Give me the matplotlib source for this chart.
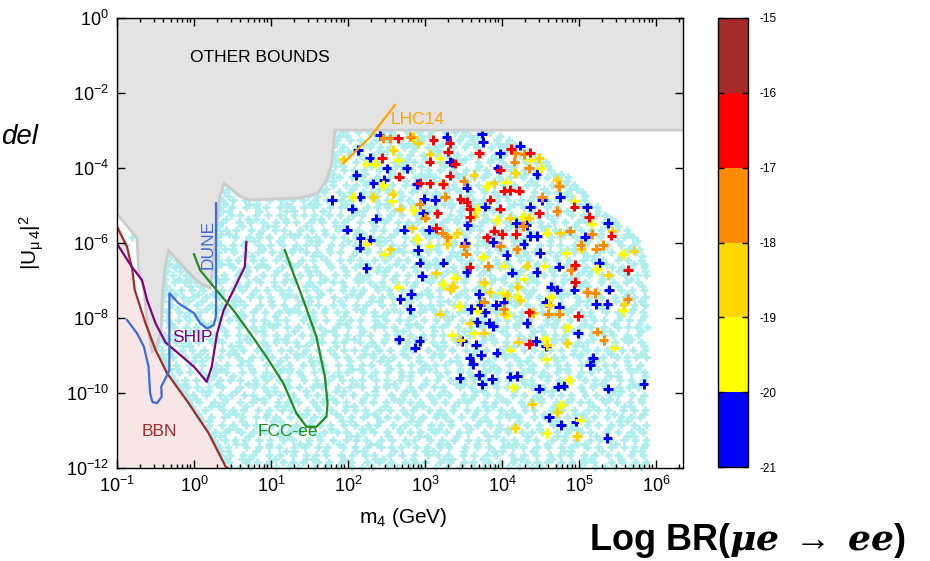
import matplotlib
matplotlib.use("Agg")
import matplotlib.pyplot as plt
from matplotlib.colors import ListedColormap, BoundaryNorm
from matplotlib.cm import ScalarMappable
from matplotlib.ticker import LogLocator, NullLocator, NullFormatter

plt.rcParams["font.family"] = ["Liberation Sans", "DejaVu Sans"]
plt.rcParams["mathtext.fontset"] = "custom"
plt.rcParams["mathtext.rm"] = "Liberation Sans"
plt.rcParams["mathtext.it"] = "Liberation Sans:italic"
plt.rcParams["mathtext.bf"] = "Liberation Sans:bold"
plt.rcParams["mathtext.bfit"] = "DejaVu Serif:italic:bold"
plt.rcParams["axes.unicode_minus"] = False

# all positions below are log10(m4 / GeV), log10(|U_mu4|^2)

# excluded by other bounds (grey)
gray_lm = [-1.0, 6.4, 6.4, 1.83, 1.79, 1.72, 1.61, 1.38, 0.73, 0.60, 0.39, 0.33, 0.28, 0.25, 0.21,
           0.10, 0.03, -0.14, -0.33, -0.38, -0.416, -0.425, -0.50, -0.545, -0.61, -0.65, -0.72,
           -0.74, -0.99, -1.0]
gray_lu = [0.0, 0.0, -2.99, -2.99, -3.87, -4.32, -4.67, -4.80, -4.85, -4.76, -4.40, -4.80, -5.83,
           -6.50, -7.20, -7.10, -6.99, -6.63, -6.19, -6.70, -7.52, -8.32, -8.85, -8.90, -8.14,
           -7.25, -6.72, -5.87, -5.25, -5.25]

bbn_lm = [-1.0, -0.87, -0.80, -0.77, -0.63, -0.50, -0.35, -0.07, 0.19, 0.41, 0.44]
bbn_lu = [-5.56, -6.10, -6.72, -7.25, -8.14, -8.85, -9.47, -10.27, -11.07, -11.96, -12.0]

ship_lm = [-0.99, -0.81, -0.675, -0.61, -0.50, -0.37, -0.17, 0.0, 0.165, 0.23, 0.30, 0.385, 0.515, 0.66, 0.68]
ship_lu = [-6.05, -6.63, -6.99, -7.52, -8.14, -8.65, -9.0, -9.3, -9.70, -9.3, -8.41, -7.79, -7.25, -6.63, -5.97]

dune_lm = [-0.87, -0.74, -0.65, -0.59, -0.57, -0.54, -0.48, -0.42, -0.425, -0.37, -0.32, -0.32,
           -0.20, 0.0, 0.08, 0.17, 0.255, 0.286, 0.286]
dune_lu = [-8.05, -8.41, -8.77, -9.3, -10.0, -10.24, -10.27, -10.1, -9.83, -9.61, -9.39, -7.34,
           -7.61, -7.87, -8.14, -8.28, -8.19, -7.96, -4.94]

fcc_lm = [0.0, 0.078, 0.29, 0.51, 0.73, 0.94, 1.16, 1.33, 1.46, 1.59, 1.72, 1.735, 1.70, 1.59, 1.42, 1.29, 1.18]
fcc_lu = [-6.30, -6.72, -7.25, -7.79, -8.41, -9.03, -9.74, -10.54, -10.9, -10.9, -10.63, -10.27,
          -9.57, -8.50, -7.52, -6.81, -6.19]

lhc_lm = [1.94, 2.16, 2.29, 2.61]
lhc_lu = [-3.87, -3.43, -3.17, -2.32]

# scan points allowed by all bounds (cyan): rows of (log|U|^2, [log m4 ...])
scan_rows = [
    (-3.05, [1.81, 1.94, 2.13, 2.27, 2.44, 2.56, 2.77, 2.92, 3.08, 3.26, 3.39, 3.52, 3.71, 3.85]),
    (-3.25, [1.86, 2.03, 2.15, 2.36, 2.51, 2.67, 2.85, 2.98, 3.11, 3.30, 3.44, 3.61, 3.73, 3.94, 4.09]),
    (-3.45, [1.79, 1.94, 2.10, 2.28, 2.41, 2.54, 2.73, 2.87, 3.04, 3.16, 3.37, 3.52, 3.68, 3.86, 3.99, 4.12, 4.25]),
    (-3.65, [1.83, 2.02, 2.16, 2.33, 2.45, 2.66, 2.81, 2.97, 3.15, 3.28, 3.41, 3.60, 3.74, 3.91, 4.03, 4.24, 4.39]),
    (-3.85, [1.78, 1.90, 2.11, 2.26, 2.42, 2.60, 2.73, 2.86, 3.05, 3.19, 3.36, 3.48, 3.69, 3.84, 4.00, 4.18,
             4.31, 4.44, 4.57]),
    (-4.05, [1.77, 1.95, 2.08, 2.21, 2.40, 2.54, 2.71, 2.83, 3.04, 3.19, 3.35, 3.53, 3.66, 3.79, 3.98, 4.12,
             4.29, 4.41, 4.62]),
    (-4.25, [1.74, 1.88, 2.05, 2.17, 2.38, 2.53, 2.69, 2.87, 3.00, 3.13, 3.32, 3.46, 3.63, 3.75, 3.96, 4.11,
             4.27, 4.45, 4.58, 4.71, 4.86]),
    (-4.45, [0.43, 1.64, 1.80, 1.98, 2.11, 2.24, 2.43, 2.57, 2.74, 2.86, 3.07, 3.22, 3.38, 3.56, 3.69, 3.82,
             4.01, 4.15, 4.32, 4.44, 4.65, 4.80, 4.94]),
    (-4.65, [0.39, 0.54, 1.56, 1.69, 1.88, 2.02, 2.19, 2.31, 2.52, 2.67, 2.83, 3.01, 3.14, 3.27, 3.46, 3.60,
             3.77, 3.89, 4.10, 4.25, 4.41, 4.59, 4.72, 4.85, 5.04]),
    (-4.85, [0.36, 0.51, 0.66, 0.82, 0.97, 1.13, 1.27, 1.42, 1.57, 1.73, 1.91, 2.04, 2.17, 2.36, 2.50, 2.67,
             2.79, 3.00, 3.15, 3.31, 3.49, 3.62, 3.75, 3.94, 4.08, 4.25, 4.37, 4.58, 4.73, 4.89, 5.07]),
    (-5.05, [0.33, 0.49, 0.67, 0.80, 0.93, 1.12, 1.26, 1.43, 1.55, 1.76, 1.91, 2.07, 2.25, 2.38, 2.51, 2.70,
             2.84, 3.01, 3.13, 3.34, 3.49, 3.65, 3.83, 3.96, 4.09, 4.28, 4.42, 4.59, 4.71, 4.92, 5.07, 5.23]),
    (-5.25, [0.31, 0.48, 0.60, 0.81, 0.96, 1.12, 1.30, 1.43, 1.56, 1.75, 1.89, 2.06, 2.18, 2.39, 2.54, 2.70,
             2.88, 3.01, 3.14, 3.33, 3.47, 3.64, 3.76, 3.97, 4.12, 4.28, 4.46, 4.59, 4.72, 4.91, 5.05, 5.22, 5.34]),
    (-5.45, [0.37, 0.58, 0.73, 0.89, 1.07, 1.20, 1.33, 1.52, 1.66, 1.83, 1.95, 2.16, 2.31, 2.47, 2.65, 2.78,
             2.91, 3.10, 3.24, 3.41, 3.53, 3.74, 3.89, 4.05, 4.23, 4.36, 4.49, 4.68, 4.82, 4.99, 5.11, 5.32, 5.47]),
    (-5.65, [0.29, 0.42, 0.55, 0.74, 0.88, 1.05, 1.17, 1.38, 1.53, 1.69, 1.87, 2.00, 2.13, 2.32, 2.46, 2.63,
             2.75, 2.96, 3.11, 3.27, 3.45, 3.58, 3.71, 3.90, 4.04, 4.21, 4.33, 4.54, 4.69, 4.85, 5.03, 5.16,
             5.29, 5.48, 5.62]),
    (-5.85, [-0.80, 0.30, 0.53, 0.71, 0.84, 0.97, 1.16, 1.30, 1.47, 1.59, 1.80, 1.95, 2.11, 2.29, 2.42, 2.55,
             2.74, 2.88, 3.05, 3.17, 3.38, 3.53, 3.69, 3.87, 4.00, 4.13, 4.32, 4.46, 4.63, 4.75, 4.96, 5.11,
             5.27, 5.45, 5.58, 5.70]),
    (-6.05, [-0.88, 0.34, 0.51, 0.63, 0.84, 0.99, 1.15, 1.33, 1.46, 1.59, 1.78, 1.92, 2.09, 2.21, 2.42, 2.57,
             2.73, 2.91, 3.04, 3.17, 3.36, 3.50, 3.67, 3.79, 4.00, 4.15, 4.31, 4.49, 4.62, 4.75, 4.94, 5.08,
             5.25, 5.37, 5.55, 5.70]),
    (-6.25, [-0.33, 0.31, 0.52, 0.67, 0.83, 1.01, 1.14, 1.27, 1.46, 1.60, 1.77, 1.89, 2.10, 2.25, 2.41, 2.59,
             2.72, 2.85, 3.04, 3.18, 3.35, 3.47, 3.68, 3.83, 3.99, 4.17, 4.30, 4.43, 4.62, 4.76, 4.93, 5.05,
             5.26, 5.41, 5.58, 5.74]),
    (-6.45, [-0.36, -0.22, 0.31, 0.44, 0.57, 0.76, 0.90, 1.07, 1.19, 1.40, 1.55, 1.71, 1.89, 2.02, 2.15, 2.34,
             2.48, 2.65, 2.77, 2.98, 3.13, 3.29, 3.47, 3.60, 3.73, 3.92, 4.06, 4.23, 4.35, 4.56, 4.71, 4.87,
             5.05, 5.18, 5.31, 5.50, 5.64, 5.80]),
    (-6.65, [-0.39, -0.25, -0.13, 0.28, 0.51, 0.69, 0.82, 0.95, 1.14, 1.28, 1.45, 1.57, 1.78, 1.93, 2.09, 2.27,
             2.40, 2.53, 2.72, 2.86, 3.03, 3.15, 3.36, 3.51, 3.67, 3.85, 3.98, 4.11, 4.30, 4.44, 4.61, 4.73,
             4.94, 5.09, 5.25, 5.43, 5.56, 5.68, 5.84]),
    (-6.85, [-0.40, -0.27, -0.10, 0.25, 0.39, 0.56, 0.68, 0.89, 1.04, 1.20, 1.38, 1.51, 1.64, 1.83, 1.97, 2.14,
             2.26, 2.47, 2.62, 2.78, 2.96, 3.09, 3.22, 3.41, 3.55, 3.72, 3.84, 4.05, 4.20, 4.36, 4.54, 4.67,
             4.80, 4.99, 5.13, 5.30, 5.42, 5.60, 5.75, 5.87]),
    (-7.05, [-0.41, -0.26, -0.12, 0.02, 0.21, 0.34, 0.55, 0.70, 0.86, 1.04, 1.17, 1.30, 1.49, 1.63, 1.80, 1.92,
             2.13, 2.28, 2.44, 2.62, 2.75, 2.88, 3.07, 3.21, 3.38, 3.50, 3.71, 3.86, 4.02, 4.20, 4.33, 4.46,
             4.65, 4.79, 4.96, 5.08, 5.29, 5.44, 5.61, 5.77]),
    (-7.25, [-0.42, -0.31, -0.17, -0.03, 0.12, 0.36, 0.49, 0.62, 0.81, 0.95, 1.12, 1.24, 1.45, 1.60, 1.76, 1.94,
             2.07, 2.20, 2.39, 2.53, 2.70, 2.82, 3.03, 3.18, 3.34, 3.52, 3.65, 3.78, 3.97, 4.11, 4.28, 4.40,
             4.61, 4.76, 4.92, 5.10, 5.23, 5.36, 5.55, 5.69, 5.85]),
    (-7.45, [-0.43, -0.29, -0.14, -0.01, 0.15, 0.32, 0.55, 0.73, 0.86, 0.99, 1.18, 1.32, 1.49, 1.61, 1.82, 1.97,
             2.13, 2.31, 2.44, 2.57, 2.76, 2.90, 3.07, 3.19, 3.40, 3.55, 3.71, 3.89, 4.02, 4.15, 4.34, 4.48,
             4.65, 4.77, 4.98, 5.13, 5.29, 5.47, 5.60, 5.72, 5.86]),
    (-7.65, [-0.44, -0.30, -0.13, 0.04, 0.22, 0.36, 0.53, 0.65, 0.86, 1.01, 1.17, 1.35, 1.48, 1.61, 1.80, 1.94,
             2.11, 2.23, 2.44, 2.59, 2.75, 2.93, 3.06, 3.19, 3.38, 3.52, 3.69, 3.81, 4.02, 4.17, 4.33, 4.51,
             4.64, 4.77, 4.96, 5.10, 5.27, 5.39, 5.57, 5.72, 5.86]),
    (-7.85, [-0.45, -0.35, -0.20, -0.06, 0.08, 0.27, 0.40, 0.61, 0.76, 0.92, 1.10, 1.23, 1.36, 1.55, 1.69, 1.86,
             1.98, 2.19, 2.34, 2.50, 2.68, 2.81, 2.94, 3.13, 3.27, 3.44, 3.56, 3.77, 3.92, 4.08, 4.26, 4.39,
             4.52, 4.71, 4.85, 5.02, 5.14, 5.35, 5.50, 5.67, 5.83]),
    (-8.05, [-0.46, -0.35, -0.21, -0.07, 0.08, 0.32, 0.45, 0.58, 0.77, 0.91, 1.08, 1.20, 1.41, 1.56, 1.72, 1.90,
             2.03, 2.16, 2.35, 2.49, 2.66, 2.78, 2.99, 3.14, 3.30, 3.48, 3.61, 3.74, 3.93, 4.07, 4.24, 4.36,
             4.57, 4.72, 4.88, 5.06, 5.19, 5.32, 5.51, 5.65, 5.81]),
    (-8.25, [-0.47, -0.33, -0.26, -0.11, 0.02, 0.18, 0.35, 0.58, 0.76, 0.89, 1.02, 1.21, 1.35, 1.52, 1.64, 1.85,
             2.00, 2.16, 2.34, 2.47, 2.60, 2.79, 2.93, 3.10, 3.22, 3.43, 3.58, 3.74, 3.92, 4.05, 4.18, 4.37,
             4.51, 4.68, 4.80, 5.01, 5.16, 5.32, 5.50, 5.63, 5.75, 5.88]),
    (-8.45, [-0.48, -0.39, -0.25, -0.08, 0.09, 0.27, 0.41, 0.58, 0.70, 0.91, 1.06, 1.22, 1.40, 1.53, 1.66, 1.85,
             1.99, 2.16, 2.28, 2.49, 2.64, 2.80, 2.98, 3.11, 3.24, 3.43, 3.57, 3.74, 3.86, 4.07, 4.22, 4.38,
             4.56, 4.69, 4.82, 5.01, 5.15, 5.32, 5.44, 5.62, 5.77]),
    (-8.65, [-0.49, -0.38, -0.23, -0.09, 0.05, 0.24, 0.37, 0.58, 0.73, 0.89, 1.07, 1.20, 1.33, 1.52, 1.66, 1.83,
             1.95, 2.16, 2.31, 2.47, 2.65, 2.78, 2.91, 3.10, 3.24, 3.41, 3.53, 3.74, 3.89, 4.05, 4.23, 4.36,
             4.49, 4.68, 4.82, 4.99, 5.11, 5.32, 5.47, 5.64, 5.80]),
    (-8.85, [-0.41, -0.30, -0.16, -0.02, 0.13, 0.37, 0.50, 0.63, 0.82, 0.96, 1.13, 1.25, 1.46, 1.61, 1.77, 1.95,
             2.08, 2.21, 2.40, 2.54, 2.71, 2.83, 3.04, 3.19, 3.35, 3.53, 3.66, 3.79, 3.98, 4.12, 4.29, 4.41,
             4.62, 4.77, 4.93, 5.11, 5.24, 5.37, 5.56, 5.70, 5.86]),
    (-9.05, [-0.41, -0.27, -0.12, 0.01, 0.17, 0.34, 0.57, 0.75, 0.88, 1.01, 1.20, 1.34, 1.51, 1.63, 1.84, 1.99,
             2.15, 2.33, 2.46, 2.59, 2.78, 2.92, 3.09, 3.21, 3.42, 3.57, 3.73, 3.91, 4.04, 4.17, 4.36, 4.50,
             4.67, 4.79, 5.00, 5.15, 5.31, 5.49, 5.62, 5.74, 5.87]),
    (-9.25, [-0.37, -0.23, -0.06, 0.11, 0.29, 0.43, 0.60, 0.72, 0.93, 1.08, 1.24, 1.42, 1.55, 1.68, 1.87, 2.01,
             2.18, 2.30, 2.51, 2.66, 2.82, 3.00, 3.13, 3.26, 3.45, 3.59, 3.76, 3.88, 4.09, 4.24, 4.40, 4.58,
             4.71, 4.84, 5.03, 5.17, 5.34, 5.46, 5.64, 5.79]),
    (-9.45, [-0.34, -0.19, -0.05, 0.09, 0.28, 0.41, 0.62, 0.77, 0.93, 1.11, 1.24, 1.37, 1.56, 1.70, 1.87, 1.99,
             2.20, 2.35, 2.51, 2.69, 2.82, 2.95, 3.14, 3.28, 3.45, 3.57, 3.78, 3.93, 4.09, 4.27, 4.40, 4.53,
             4.72, 4.86, 5.03, 5.15, 5.36, 5.51, 5.68, 5.84]),
    (-9.65, [-0.26, -0.12, 0.02, 0.18, 0.34, 0.47, 0.60, 0.79, 0.93, 1.10, 1.22, 1.43, 1.58, 1.74, 1.92, 2.05,
             2.18, 2.37, 2.51, 2.68, 2.80, 3.01, 3.16, 3.32, 3.50, 3.63, 3.76, 3.95, 4.09, 4.26, 4.38, 4.59,
             4.74, 4.90, 5.08, 5.21, 5.34, 5.53, 5.67, 5.83]),
    (-9.85, [-0.19, -0.09, 0.04, 0.20, 0.37, 0.60, 0.78, 0.91, 1.04, 1.23, 1.37, 1.54, 1.66, 1.87, 2.02, 2.18,
             2.36, 2.49, 2.62, 2.81, 2.95, 3.12, 3.24, 3.45, 3.60, 3.76, 3.94, 4.07, 4.20, 4.39, 4.53, 4.70,
             4.82, 5.03, 5.18, 5.34, 5.52, 5.65, 5.77]),
    (-10.05, [-0.12, -0.01, 0.16, 0.34, 0.48, 0.65, 0.77, 0.98, 1.13, 1.29, 1.47, 1.60, 1.73, 1.92, 2.06, 2.23,
              2.35, 2.56, 2.71, 2.87, 3.05, 3.18, 3.31, 3.50, 3.64, 3.81, 3.93, 4.14, 4.29, 4.45, 4.63, 4.76,
              4.89, 5.08, 5.22, 5.39, 5.51, 5.69, 5.84]),
    (-10.25, [-0.07, 0.07, 0.26, 0.39, 0.60, 0.75, 0.91, 1.09, 1.22, 1.35, 1.54, 1.68, 1.85, 1.97, 2.18, 2.33,
              2.49, 2.67, 2.80, 2.93, 3.12, 3.26, 3.43, 3.55, 3.76, 3.91, 4.07, 4.25, 4.38, 4.51, 4.70, 4.84,
              5.01, 5.13, 5.34, 5.49, 5.66, 5.82]),
    (-10.45, [0.00, 0.14, 0.38, 0.51, 0.64, 0.83, 0.97, 1.14, 1.26, 1.47, 1.62, 1.78, 1.96, 2.09, 2.22, 2.41,
              2.55, 2.72, 2.84, 3.05, 3.20, 3.36, 3.54, 3.67, 3.80, 3.99, 4.13, 4.30, 4.42, 4.63, 4.78, 4.94,
              5.12, 5.25, 5.38, 5.57, 5.71, 5.86]),
    (-10.65, [0.06, 0.22, 0.39, 0.62, 0.80, 0.93, 1.06, 1.25, 1.39, 1.56, 1.68, 1.89, 2.04, 2.20, 2.38, 2.51,
              2.64, 2.83, 2.97, 3.14, 3.26, 3.47, 3.62, 3.78, 3.96, 4.09, 4.22, 4.41, 4.55, 4.72, 4.84, 5.05,
              5.20, 5.36, 5.54, 5.67, 5.79]),
    (-10.85, [0.19, 0.37, 0.51, 0.68, 0.80, 1.01, 1.16, 1.32, 1.50, 1.63, 1.76, 1.95, 2.09, 2.26, 2.38, 2.59,
              2.74, 2.90, 3.08, 3.21, 3.34, 3.53, 3.67, 3.84, 3.96, 4.17, 4.32, 4.48, 4.66, 4.79, 4.92, 5.11,
              5.25, 5.42, 5.54, 5.72, 5.87]),
    (-11.05, [0.27, 0.40, 0.61, 0.76, 0.92, 1.10, 1.23, 1.36, 1.55, 1.69, 1.86, 1.98, 2.19, 2.34, 2.50, 2.68,
              2.81, 2.94, 3.13, 3.27, 3.44, 3.56, 3.77, 3.92, 4.08, 4.26, 4.39, 4.52, 4.71, 4.85, 5.02, 5.14,
              5.35, 5.50, 5.67, 5.83]),
    (-11.25, [0.26, 0.40, 0.53, 0.66, 0.85, 0.99, 1.16, 1.28, 1.49, 1.64, 1.80, 1.98, 2.11, 2.24, 2.43, 2.57,
              2.74, 2.86, 3.07, 3.22, 3.38, 3.56, 3.69, 3.82, 4.01, 4.15, 4.32, 4.44, 4.65, 4.80, 4.96, 5.14,
              5.27, 5.40, 5.59, 5.73, 5.87]),
    (-11.45, [0.33, 0.44, 0.67, 0.85, 0.98, 1.11, 1.30, 1.44, 1.61, 1.73, 1.94, 2.09, 2.25, 2.43, 2.56, 2.69,
              2.88, 3.02, 3.19, 3.31, 3.52, 3.67, 3.83, 4.01, 4.14, 4.27, 4.46, 4.60, 4.77, 4.89, 5.10, 5.25,
              5.41, 5.59, 5.72, 5.84]),
    (-11.65, [0.35, 0.47, 0.64, 0.76, 0.97, 1.12, 1.28, 1.46, 1.59, 1.72, 1.91, 2.05, 2.22, 2.34, 2.55, 2.70,
              2.86, 3.04, 3.17, 3.30, 3.49, 3.63, 3.80, 3.92, 4.13, 4.28, 4.44, 4.62, 4.75, 4.88, 5.07, 5.21,
              5.38, 5.50, 5.68, 5.83]),
    (-11.85, [0.46, 0.67, 0.82, 0.98, 1.16, 1.29, 1.42, 1.61, 1.75, 1.92, 2.04, 2.25, 2.40, 2.56, 2.74, 2.87,
              3.00, 3.19, 3.33, 3.50, 3.62, 3.83, 3.98, 4.14, 4.32, 4.45, 4.58, 4.77, 4.91, 5.08, 5.20, 5.41,
              5.56, 5.73, 5.87]),
    (-11.98, [0.47, 0.60, 0.73, 0.92, 1.06, 1.23, 1.35, 1.56, 1.71, 1.87, 2.05, 2.18, 2.31, 2.50, 2.64, 2.81,
              2.93, 3.14, 3.29, 3.45, 3.63, 3.76, 3.89, 4.08, 4.22, 4.39, 4.51, 4.72, 4.87, 5.03, 5.21, 5.34,
              5.47, 5.66, 5.80]),
]

# sparser scan points lying between the rows above
scan_rows_mid = [
    (-3.15, [1.88, 1.99, 2.35, 2.47, 2.60, 2.95, 3.05, 3.48, 3.58, 3.67, 3.98]),
    (-3.35, [1.85, 2.20, 2.30, 2.70, 2.79, 2.90, 3.22, 3.55, 3.64, 3.95, 4.05, 4.16]),
    (-3.55, [1.90, 2.00, 2.40, 2.50, 2.83, 3.10, 3.20, 3.30, 3.70, 4.05, 4.14, 4.32]),
    (-3.75, [1.85, 2.22, 2.32, 2.66, 2.76, 3.00, 3.42, 3.52, 3.86, 3.96, 4.30, 4.48]),
    (-3.95, [1.83, 1.93, 2.30, 2.62, 2.72, 2.95, 3.25, 3.35, 3.70, 4.05, 4.15, 4.50, 4.60]),
    (-4.15, [1.80, 2.12, 2.22, 2.60, 2.95, 3.05, 3.40, 3.50, 3.82, 4.20, 4.30, 4.68, 4.77]),
    (-4.35, [1.70, 1.80, 2.20, 2.30, 2.75, 3.10, 3.20, 3.55, 3.90, 4.00, 4.38, 4.75, 4.85]),
    (-4.55, [0.46, 1.62, 1.72, 2.05, 2.40, 2.50, 2.90, 3.30, 3.40, 3.75, 4.10, 4.20, 4.55, 4.88, 4.98]),
    (-4.75, [0.44, 1.48, 1.60, 1.95, 2.28, 2.38, 2.70, 3.10, 3.20, 3.55, 3.95, 4.05, 4.40, 4.80, 4.90, 5.08]),
    (-4.95, [0.40, 0.72, 0.82, 1.20, 1.50, 1.60, 1.98, 2.40, 2.50, 2.85, 3.25, 3.35, 3.70, 4.15, 4.25, 4.62,
             5.00, 5.12]),
    (-5.15, [0.36, 0.46, 0.85, 1.20, 1.30, 1.68, 2.10, 2.20, 2.60, 2.95, 3.05, 3.45, 3.88, 3.98, 4.38, 4.75,
             4.85, 5.25]),
    (-5.35, [0.42, 0.70, 0.80, 1.18, 1.55, 1.65, 2.00, 2.42, 2.52, 2.92, 3.30, 3.40, 3.80, 4.18, 4.28, 4.65,
             5.05, 5.15, 5.42]),
    (-5.55, [0.33, 0.62, 0.95, 1.05, 1.45, 1.85, 1.95, 2.35, 2.75, 2.85, 3.20, 3.62, 3.72, 4.10, 4.50, 4.60,
             4.95, 5.38, 5.50]),
    (-5.75, [0.35, 0.45, 0.85, 1.25, 1.35, 1.70, 2.10, 2.20, 2.60, 3.00, 3.10, 3.50, 3.92, 4.02, 4.40, 4.80,
             4.90, 5.28, 5.65]),
    (-5.95, [0.30, 0.68, 0.78, 1.10, 1.52, 1.62, 2.00, 2.38, 2.48, 2.85, 3.28, 3.38, 3.75, 4.15, 4.25, 4.62,
             5.02, 5.12, 5.50, 5.75]),
    (-6.15, [0.40, 0.50, 0.90, 1.28, 1.38, 1.75, 2.15, 2.25, 2.65, 3.05, 3.15, 3.55, 3.95, 4.05, 4.45, 4.85,
             4.95, 5.32, 5.65, 5.78]),
    (-6.35, [-0.30, 0.28, 0.65, 0.75, 1.12, 1.55, 1.65, 2.05, 2.45, 2.55, 2.92, 3.32, 3.42, 3.80, 4.22, 4.32,
             4.70, 5.10, 5.20, 5.55, 5.82]),
    (-6.55, [-0.33, -0.20, 0.35, 0.45, 0.88, 1.25, 1.35, 1.75, 2.15, 2.25, 2.62, 3.05, 3.15, 3.55, 3.95, 4.05,
             4.45, 4.85, 4.95, 5.35, 5.72, 5.84]),
    (-6.75, [-0.35, -0.18, 0.26, 0.60, 0.70, 1.08, 1.48, 1.58, 1.98, 2.38, 2.48, 2.88, 3.28, 3.38, 3.76, 4.15,
             4.25, 4.65, 5.05, 5.15, 5.52, 5.86]),
    (-6.95, [-0.38, -0.20, -0.05, 0.30, 0.40, 0.80, 1.20, 1.30, 1.70, 2.10, 2.20, 2.58, 3.00, 3.10, 3.50, 3.90,
             4.00, 4.40, 4.80, 4.90, 5.30, 5.68]),
    (-7.15, [-0.36, -0.05, 0.08, 0.58, 0.68, 1.05, 1.45, 1.55, 1.95, 2.35, 2.45, 2.85, 3.25, 3.35, 3.72, 4.12,
             4.22, 4.62, 5.02, 5.12, 5.50, 5.82]),
    (-7.35, [-0.38, -0.25, 0.05, 0.25, 0.35, 0.75, 1.15, 1.25, 1.65, 2.05, 2.15, 2.55, 2.95, 3.05, 3.45, 3.85,
             3.95, 4.35, 4.75, 4.85, 5.25, 5.62]),
    (-7.55, [-0.40, -0.08, 0.10, 0.50, 0.60, 1.00, 1.40, 1.50, 1.90, 2.30, 2.40, 2.80, 3.20, 3.30, 3.70, 4.10,
             4.20, 4.60, 5.00, 5.10, 5.48, 5.80]),
    (-7.75, [-0.42, -0.22, 0.15, 0.30, 0.40, 0.80, 1.20, 1.30, 1.70, 2.10, 2.20, 2.60, 3.00, 3.10, 3.50, 3.90,
             4.00, 4.40, 4.80, 4.90, 5.30, 5.70]),
    (-7.95, [-0.44, -0.12, 0.02, 0.55, 0.65, 1.05, 1.45, 1.55, 1.95, 2.35, 2.45, 2.85, 3.25, 3.35, 3.75, 4.15,
             4.25, 4.65, 5.05, 5.15, 5.55, 5.85]),
    (-8.15, [-0.45, -0.30, 0.12, 0.22, 0.62, 0.98, 1.08, 1.50, 1.88, 1.98, 2.40, 2.78, 2.88, 3.28, 3.68, 3.78,
             4.18, 4.58, 4.68, 5.08, 5.46, 5.78]),
    (-8.35, [-0.47, -0.05, 0.05, 0.40, 0.80, 0.90, 1.30, 1.70, 1.80, 2.20, 2.62, 2.72, 3.12, 3.50, 3.60, 4.00,
             4.42, 4.52, 4.92, 5.30, 5.40, 5.80]),
    (-8.55, [-0.46, -0.34, 0.20, 0.30, 0.68, 1.08, 1.18, 1.58, 1.98, 2.08, 2.48, 2.88, 2.98, 3.38, 3.78, 3.88,
             4.28, 4.68, 4.78, 5.18, 5.58, 5.68]),
    (-8.75, [-0.48, -0.15, -0.05, 0.48, 0.58, 0.95, 1.35, 1.45, 1.85, 2.25, 2.35, 2.75, 3.15, 3.25, 3.65, 4.05,
             4.15, 4.55, 4.95, 5.05, 5.45, 5.85]),
    (-8.95, [-0.42, -0.32, 0.08, 0.45, 0.55, 0.92, 1.32, 1.42, 1.82, 2.22, 2.32, 2.72, 3.12, 3.22, 3.62, 4.02,
             4.12, 4.52, 4.92, 5.02, 5.42, 5.80]),
    (-9.15, [-0.38, 0.00, 0.10, 0.62, 0.72, 1.12, 1.52, 1.62, 2.02, 2.42, 2.52, 2.92, 3.32, 3.42, 3.82, 4.22,
             4.32, 4.72, 5.12, 5.22, 5.62]),
    (-9.35, [-0.33, -0.22, 0.25, 0.35, 0.75, 1.15, 1.25, 1.65, 2.05, 2.15, 2.55, 2.95, 3.05, 3.45, 3.85, 3.95,
             4.35, 4.75, 4.85, 5.25, 5.65, 5.75]),
    (-9.55, [-0.28, 0.15, 0.25, 0.50, 0.90, 1.00, 1.40, 1.80, 1.90, 2.30, 2.70, 2.80, 3.20, 3.60, 3.70, 4.10,
             4.50, 4.60, 5.00, 5.40, 5.50, 5.86]),
    (-9.75, [-0.22, -0.12, 0.30, 0.70, 0.80, 1.20, 1.60, 1.70, 2.10, 2.50, 2.60, 3.00, 3.40, 3.50, 3.90, 4.30,
             4.40, 4.80, 5.20, 5.30, 5.70]),
    (-9.95, [-0.15, 0.10, 0.20, 0.55, 0.95, 1.05, 1.45, 1.85, 1.95, 2.35, 2.75, 2.85, 3.25, 3.65, 3.75, 4.15,
             4.55, 4.65, 5.05, 5.45, 5.55]),
    (-10.15, [-0.08, 0.02, 0.40, 0.80, 0.90, 1.30, 1.70, 1.80, 2.20, 2.60, 2.70, 3.10, 3.50, 3.60, 4.00, 4.40,
              4.50, 4.90, 5.30, 5.40, 5.80]),
    (-10.35, [-0.02, 0.22, 0.32, 0.68, 1.08, 1.18, 1.58, 1.98, 2.08, 2.48, 2.88, 2.98, 3.38, 3.78, 3.88, 4.28,
              4.68, 4.78, 5.18, 5.58, 5.68]),
    (-10.55, [0.05, 0.45, 0.55, 0.95, 1.35, 1.45, 1.85, 2.25, 2.35, 2.75, 3.15, 3.25, 3.65, 4.05, 4.15, 4.55,
              4.95, 5.05, 5.45, 5.85]),
    (-10.75, [0.10, 0.20, 0.62, 1.02, 1.12, 1.52, 1.92, 2.02, 2.42, 2.82, 2.92, 3.32, 3.72, 3.82, 4.22, 4.62,
              4.72, 5.12, 5.52, 5.62]),
    (-10.95, [0.17, 0.45, 0.55, 0.88, 1.28, 1.38, 1.78, 2.18, 2.28, 2.68, 3.08, 3.18, 3.58, 3.98, 4.08, 4.48,
              4.88, 4.98, 5.38, 5.78]),
    (-11.15, [0.24, 0.34, 0.72, 1.12, 1.22, 1.62, 2.02, 2.12, 2.52, 2.92, 3.02, 3.42, 3.82, 3.92, 4.32, 4.72,
              4.82, 5.22, 5.62, 5.72]),
    (-11.35, [0.30, 0.55, 0.65, 0.98, 1.38, 1.48, 1.88, 2.28, 2.38, 2.78, 3.18, 3.28, 3.68, 4.08, 4.18, 4.58,
              4.98, 5.08, 5.48, 5.86]),
    (-11.55, [0.34, 0.44, 0.80, 1.20, 1.30, 1.70, 2.10, 2.20, 2.60, 3.00, 3.10, 3.50, 3.90, 4.00, 4.40, 4.80,
              4.90, 5.30, 5.70, 5.80]),
    (-11.75, [0.40, 0.62, 0.72, 1.05, 1.45, 1.55, 1.95, 2.35, 2.45, 2.85, 3.25, 3.35, 3.75, 4.15, 4.25, 4.65,
              5.05, 5.15, 5.55]),
]

# points coloured by Log BR(mu e -> ee)
br_blue = [(2.41, -3.12), (3.28, -3.16), (3.74, -3.08), (3.75, -3.30), (4.23, -3.40), (2.13, -3.52),
           (2.28, -3.72), (3.32, -3.83), (3.35, -3.85), (3.97, -3.61), (3.94, -4.01), (2.76, -4.01),
           (2.50, -4.01), (2.11, -4.19), (2.33, -4.41), (2.47, -4.32), (2.90, -4.43), (3.54, -4.52),
           (4.45, -4.16), (2.16, -4.76), (1.79, -4.85), (2.05, -5.08), (2.99, -4.82), (3.13, -4.85),
           (3.78, -5.03), (4.36, -5.03), (4.52, -4.85), (4.75, -4.78), (5.10, -5.05), (2.36, -5.35),
           (2.97, -5.21), (3.55, -5.53), (4.18, -5.46), (4.32, -5.52), (4.37, -5.81), (4.46, -5.81),
           (4.28, -6.03), (5.08, -5.83), (5.38, -5.46), (1.99, -5.64), (2.73, -5.64), (3.05, -5.64),
           (2.16, -5.87), (2.29, -5.92), (2.15, -6.12), (2.91, -6.19), (3.52, -5.99), (3.88, -5.97),
           (4.06, -6.32), (4.49, -6.26), (2.93, -6.52), (3.24, -6.52), (3.54, -6.77), (4.13, -6.79),
           (4.45, -6.77), (4.74, -6.63), (5.26, -6.54), (2.96, -6.88), (2.24, -6.66),
           (2.82, -7.36), (2.68, -7.50), (2.81, -7.76), (3.70, -7.36), (3.60, -7.76), (3.72, -7.65),
           (3.78, -7.85), (3.92, -7.65), (4.02, -7.56), (4.63, -7.16), (4.72, -7.24), (4.94, -7.24),
           (5.39, -7.24), (4.57, -7.57), (4.74, -7.70), (5.22, -7.63), (5.37, -7.63), (3.67, -8.10),
           (3.83, -8.14), (3.88, -8.21), (4.32, -8.14), (4.99, -8.41), (2.66, -8.57), (2.93, -8.61),
           (2.87, -8.79), (3.48, -8.61), (3.66, -8.71), (4.44, -8.61), (4.57, -8.75), (3.58, -9.07),
           (3.62, -9.23), (3.73, -8.99), (3.93, -8.92), (5.18, -9.07), (5.14, -9.26), (3.45, -9.60),
           (3.70, -9.52), (3.74, -9.77), (3.87, -9.63), (4.11, -9.56), (4.20, -9.55), (4.48, -9.88),
           (4.73, -9.83), (4.80, -9.80), (5.38, -9.88), (5.84, -9.76), (4.61, -10.65), (4.77, -10.86),
           (4.96, -10.76), (5.37, -11.20)]
br_yellow = [(2.24, -3.88), (2.65, -3.79), (2.35, -3.88), (3.19, -3.74), (3.22, -4.41), (3.80, -4.48),
             (4.05, -4.36), (4.36, -3.79), (4.50, -4.01), (4.94, -4.88), (2.46, -4.45), (2.57, -4.89),
             (2.85, -5.12), (2.90, -5.90), (3.06, -6.08), (3.32, -5.85), (3.67, -5.10), (3.93, -5.39),
             (4.27, -5.30), (4.58, -5.72), (4.83, -6.26), (5.17, -5.48), (5.57, -6.29), (2.47, -6.29),
             (2.24, -6.03), (2.06, -4.76), (2.65, -7.16), (3.39, -6.92), (3.75, -6.36), (4.02, -6.60),
             (4.55, -6.60), (5.23, -6.70), (4.28, -6.95), (3.23, -7.09), (3.76, -7.09), (4.00, -7.32),
             (4.20, -7.43), (3.44, -7.68), (3.68, -7.80), (4.07, -7.91), (4.63, -7.45), (4.73, -7.88),
             (3.35, -8.45), (3.64, -8.41), (4.11, -8.84), (4.56, -8.57), (4.85, -8.25), (5.46, -8.79),
             (4.14, -9.85), (4.77, -10.31), (4.87, -9.65), (4.58, -11.06), (5.01, -10.72), (4.57, -9.09),
             (5.57, -7.79)]
br_gold = [(1.94, -3.77), (2.59, -3.52), (2.85, -3.18), (2.91, -3.33), (3.06, -3.63), (3.63, -4.19),
           (3.89, -4.41), (4.17, -4.14), (4.48, -3.74), (4.71, -4.32), (2.58, -4.68), (2.67, -5.08),
           (2.83, -5.61), (3.28, -6.03), (3.42, -5.74), (3.63, -5.28), (4.10, -5.34), (4.35, -5.32),
           (4.75, -5.72), (5.03, -6.15), (5.43, -5.67), (5.71, -6.20), (2.55, -6.17), (2.33, -4.78),
           (3.14, -6.81), (3.32, -7.22), (3.76, -7.04), (4.32, -6.60), (4.20, -7.16), (5.38, -6.85),
           (3.36, -7.18), (3.84, -7.30), (4.06, -7.39), (4.24, -7.52), (3.19, -7.88), (4.03, -7.88),
           (4.40, -7.86), (4.61, -7.65), (3.58, -8.14), (3.46, -8.59), (3.77, -8.39), (4.21, -8.63),
           (4.59, -8.72), (4.85, -8.66), (4.39, -10.29), (4.72, -10.50), (4.17, -10.94), (4.97, -11.15),
           (5.59, -7.63)]
br_orange = [(2.46, -3.21), (2.55, -3.21), (2.81, -3.16), (4.17, -3.61), (4.28, -3.63), (4.16, -3.83),
             (4.35, -4.01), (4.74, -4.48), (4.71, -5.14), (3.50, -4.34), (3.26, -4.76), (2.93, -4.96),
             (3.00, -5.32), (3.22, -5.72), (3.29, -5.85), (3.51, -6.08), (3.53, -6.28), (3.97, -6.08),
             (4.19, -6.17), (4.27, -5.55), (4.88, -5.67), (5.17, -5.76), (5.02, -6.06), (5.31, -6.06),
             (5.22, -6.15), (4.52, -4.78), (4.89, -6.72), (3.82, -6.61), (5.10, -7.31), (5.21, -7.34),
             (5.63, -7.48), (4.60, -7.88), (3.77, -7.56), (4.02, -7.76), (5.23, -8.36), (5.32, -8.59),
             (4.74, -7.88)]
br_red = [(2.65, -3.21), (3.11, -3.25), (3.32, -3.34), (3.30, -3.56), (3.70, -3.61), (3.06, -3.83),
          (3.39, -3.88), (2.44, -3.74), (2.66, -4.23), (2.93, -4.39), (3.06, -4.41), (3.23, -4.43),
          (3.32, -4.20), (3.97, -4.04), (4.12, -3.50), (4.36, -3.59), (4.02, -4.60), (4.10, -4.59),
          (4.22, -4.60), (3.46, -4.82), (3.54, -4.90), (3.58, -5.08), (3.58, -5.30), (3.85, -4.84),
          (3.97, -5.08), (3.16, -5.21), (3.14, -5.60), (3.80, -5.85), (3.90, -5.67), (4.00, -5.76),
          (4.18, -5.76), (4.48, -5.21), (4.94, -5.03), (5.13, -5.30), (5.42, -5.80), (3.58, -6.63),
          (4.95, -6.59), (4.95, -7.04), (5.64, -6.72), (4.35, -7.85), (4.99, -7.95), (4.35, -8.69)]

br_bounds = [-21, -20, -19, -18, -17, -16, -15]
br_colors = ["#0000FF", "#FFFF00", "#FFD700", "#FF8C00", "#FF0000", "#A52A2A"]
br_classes = [(-20.5, br_blue), (-19.5, br_yellow), (-18.5, br_gold), (-17.5, br_orange), (-16.5, br_red)]

x_exps = [-1, 0, 1, 2, 3, 4, 5, 6]
y_exps = [0, -2, -4, -6, -8, -10, -12]

fig = plt.figure(figsize=(9.3, 5.61), dpi=100)
ax = fig.add_axes([117 / 930, 1 - 468 / 561, 566 / 930, 450 / 561])
ax.set_xscale("log")
ax.set_yscale("log")
ax.set_xlim(10 ** -1, 10 ** (-1 + 566 / 77))
ax.set_ylim(1e-12, 1)

# pink BBN region
ax.fill([10 ** v for v in bbn_lm + [0.44, -1.0]], [10 ** v for v in bbn_lu + [-12.0, -12.0]],
        facecolor="#F6E6E6", edgecolor="none", zorder=1)

all_rows = scan_rows + scan_rows_mid
cyan_x = [10 ** v for ly, row in all_rows for v in row]
cyan_y = [10 ** ly for ly, row in all_rows for v in row]
ax.scatter(cyan_x, cyan_y, marker="+", s=40, linewidths=2.0, color="#AFEEEE", zorder=2, clip_on=False)

cmap = ListedColormap(br_colors)
norm = BoundaryNorm(br_bounds, cmap.N)
for br, pts in br_classes:
    ax.scatter([10 ** p[0] for p in pts], [10 ** p[1] for p in pts], c=[br] * len(pts),
               cmap=cmap, norm=norm, marker="+", s=48, linewidths=2.2, zorder=3)

ax.fill([10 ** v for v in gray_lm], [10 ** v for v in gray_lu],
        facecolor="#E3E3E3", edgecolor="#CCCCCC", linewidth=2, zorder=4)

ax.plot([10 ** v for v in bbn_lm], [10 ** v for v in bbn_lu], color="#A52A2A", lw=1.6, zorder=5)
ax.plot([10 ** v for v in ship_lm], [10 ** v for v in ship_lu], color="#800080", lw=1.6, zorder=5)
ax.plot([10 ** v for v in dune_lm], [10 ** v for v in dune_lu], color="#4169E1", lw=1.6, zorder=5)
ax.plot([10 ** v for v in fcc_lm], [10 ** v for v in fcc_lu], color="#228B22", lw=1.6, zorder=5)
ax.plot([10 ** v for v in lhc_lm], [10 ** v for v in lhc_lu], color="#FFA500", lw=1.6, zorder=5)

ax.text(10 ** 0.857, 10 ** -1.04, "OTHER BOUNDS", fontsize=12.5, ha="center", va="center", zorder=6)
ax.text(10 ** 2.91, 10 ** -2.72, "LHC14", fontsize=12.5, color="#FFA500", ha="center", va="center", zorder=6)
ax.text(10 ** 0.18, 10 ** -6.05, "DUNE", fontsize=12.5, color="#4169E1", rotation=90,
        ha="center", va="center", zorder=6)
ax.text(10 ** -0.026, 10 ** -8.53, "SHIP", fontsize=12.5, color="#800080", ha="center", va="center", zorder=6)
ax.text(10 ** -0.455, 10 ** -11.04, "BBN", fontsize=12.5, color="#A52A2A", ha="center", va="center", zorder=6)
ax.text(10 ** 1.22, 10 ** -11.04, "FCC-ee", fontsize=12.5, color="#228B22", ha="center", va="center", zorder=6)

ax.set_xticks([10.0 ** e for e in x_exps])
ax.set_xticklabels([r"$10^{%d}$" % e for e in x_exps])
ax.xaxis.set_minor_locator(LogLocator(base=10, subs=[2, 3, 4, 5, 6, 7, 8, 9], numticks=20))
ax.xaxis.set_minor_formatter(NullFormatter())
ax.set_yticks([10.0 ** e for e in y_exps])
ax.set_yticklabels([r"$10^{%d}$" % e for e in y_exps])
ax.yaxis.set_minor_locator(NullLocator())
ax.tick_params(which="both", direction="in", top=True, right=True, labelsize=13, width=1)
ax.tick_params(which="major", length=6, pad=6)
ax.tick_params(which="minor", length=3)
for s in ax.spines.values():
    s.set_zorder(10)
    s.set_linewidth(1.0)
ax.xaxis.set_zorder(11)
ax.yaxis.set_zorder(11)

ax.set_xlabel(r"m$_4$ (GeV)", fontsize=15)
ax.xaxis.set_label_coords(0.505, -0.085)
ax.set_ylabel(r"$|\mathrm{U}_{\mathrm{\mu}\,4}|^{2}$", fontsize=15)
ax.yaxis.set_label_coords(-0.125, 0.5)

cax = fig.add_axes([718 / 930, 1 - 467 / 561, 30 / 930, 449 / 561])
cb = fig.colorbar(ScalarMappable(norm=norm, cmap=cmap), cax=cax, ticks=br_bounds)
cb.set_ticklabels([str(b) for b in br_bounds])
cax.tick_params(direction="in", length=4, width=1, labelsize=8.5, left=True, right=True, pad=8)
cb.outline.set_linewidth(1)

fig.text(747 / 930, 1 - 540 / 561, r"$\mathbf{Log\ BR(}\mathbfit{\mu e}\ \mathbf{\rightarrow}\ \mathbfit{ee}\mathbf{)}$",
         fontsize=26, ha="center", va="center")
# tail of the cropped panel title on the left edge
fig.text(1 / 930, 1 - 137 / 561, "del", fontsize=20, style="italic", ha="left", va="center")

fig.savefig("out.png", dpi=100)
